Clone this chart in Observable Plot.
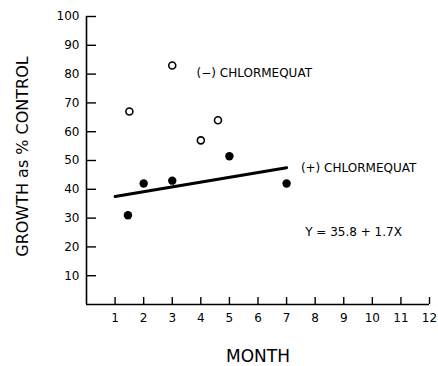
<!DOCTYPE html>
<html><head><meta charset="utf-8">
<script src="https://cdn.jsdelivr.net/npm/d3@7"></script>
<script src="https://cdn.jsdelivr.net/npm/@observablehq/plot@0.6"></script>
<style>
html,body{margin:0;padding:0;background:#fff;}
svg{font-family:"DejaVu Sans",sans-serif;}
</style></head>
<body><div id="chart"></div>
<script>
const xTicks = [1,2,3,4,5,6,7,8,9,10,11,12];
const yTicks = [10,20,30,40,50,60,70,80,90,100];
const minusMonth = [1.5, 3, 4, 4.6];
const minusGrowth = [67, 83, 57, 64];
const plusMonth = [1.45, 2, 3, 5, 7];
const plusGrowth = [31, 42, 43, 51.5, 42];
const fitMonth = [1, 7];
const fitGrowth = [37.5, 47.5];
const labelText = ["(\u2212) CHLORMEQUAT", "(+) CHLORMEQUAT", "Y = 35.8 + 1.7X"];
const labelMonth = [3.85, 7.5, 7.65];
const labelGrowth = [80.5, 47.5, 25];

const minus = minusMonth.map((m,i)=>({m, g: minusGrowth[i]}));
const plus = plusMonth.map((m,i)=>({m, g: plusGrowth[i]}));
const fit = fitMonth.map((m,i)=>({m, g: fitGrowth[i]}));
const labels = labelText.map((t,i)=>({t, m: labelMonth[i], g: labelGrowth[i]}));

const chart = Plot.plot({
  width: 438, height: 366,
  marginLeft: 86, marginRight: 9, marginTop: 16, marginBottom: 62,
  x: {domain: [0, 12]},
  y: {domain: [0, 100]},
  style: {fontFamily: "DejaVu Sans, sans-serif", color: "#000", background: "#fff"},
  marks: [
    Plot.ruleX([0], {stroke: "#000", strokeWidth: 1.6}),
    Plot.ruleY([0], {stroke: "#000", strokeWidth: 1.6}),
    Plot.axisY({ticks: yTicks, anchor: "left", tickSize: -10, tickFormat: () => "", label: null, strokeWidth: 1.4}),
    Plot.axisY({ticks: yTicks, anchor: "left", tickSize: 0, tickPadding: 7, fontSize: 12, label: null}),
    Plot.axisX({ticks: xTicks, anchor: "bottom", tickSize: -7, tickFormat: () => "", label: null, strokeWidth: 1.4}),
    Plot.axisX({ticks: xTicks, anchor: "bottom", tickSize: 0, tickPadding: 9, fontSize: 12, label: null}),
    Plot.line(fit, {x: "m", y: "g", stroke: "#000", strokeWidth: 3}),
    Plot.dot(minus, {x: "m", y: "g", r: 3.5, stroke: "#000", strokeWidth: 1.6, fill: "#fff"}),
    Plot.dot(plus, {x: "m", y: "g", r: 4.2, fill: "#000", stroke: "none"}),
    Plot.text(labels, {x: "m", y: "g", text: "t", textAnchor: "start", fontSize: 12}),
    Plot.text(["MONTH"], {frameAnchor: "bottom", textAnchor: "middle", lineAnchor: "middle", dy: 52, fontSize: 17}),
    Plot.text(["GROWTH as % CONTROL"], {frameAnchor: "left", textAnchor: "middle", lineAnchor: "middle", dx: -64, dy: -4, rotate: -90, fontSize: 16})
  ]
});
document.getElementById("chart").appendChild(chart);
</script>
</body></html>
